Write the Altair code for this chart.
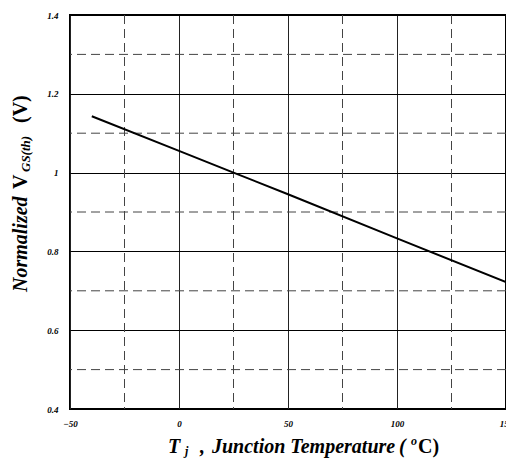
import altair as alt
import pandas as pd

# Data
temps = [-40, 0, 25, 50, 100, 150]
vgs_norm = [1.143, 1.055, 1.0, 0.945, 0.833, 0.722]

x_major = [-50, 0, 50, 100, 150]
y_major = [0.4, 0.6, 0.8, 1.0, 1.2, 1.4]
x_minor = [-25, 25, 75, 125]
y_minor = [0.5, 0.7, 0.9, 1.1, 1.3]

FONT = "Liberation Serif"

line_df = pd.DataFrame({"T": temps, "V": vgs_norm})
xminor_df = pd.DataFrame({"x": x_minor})
yminor_df = pd.DataFrame({"y": y_minor})

xscale = alt.Scale(domain=[-50, 150], nice=False, zero=False)
yscale = alt.Scale(domain=[0.4, 1.4], nice=False, zero=False)

xaxis = alt.Axis(values=x_major, grid=True, gridColor="#222", gridWidth=1, ticks=False,
                 domain=False, title=None, labelFont=FONT, labelFontWeight="bold",
                 labelFontStyle="italic", labelFontSize=9, labelColor="#000",
                 labelPadding=10, labelFlush=False, labelOverlap=False)
yaxis = alt.Axis(values=y_major, grid=True, gridColor="#000", gridWidth=1, ticks=False,
                 domain=False, title=None, labelFont=FONT, labelFontWeight="bold",
                 labelFontStyle="italic", labelFontSize=9, labelColor="#000",
                 labelPadding=12, labelFlush=False, labelOverlap=False,
                 labelExpr="datum.value == 1 ? '1' : format(datum.value, '.1f')")

line = alt.Chart(line_df).mark_line(color="#000", strokeWidth=2).encode(
    x=alt.X("T:Q", scale=xscale, axis=xaxis),
    y=alt.Y("V:Q", scale=yscale, axis=yaxis),
)

vminor = alt.Chart(xminor_df).mark_rule(color="#444", strokeWidth=1, strokeDash=[9, 5]).encode(
    x=alt.X("x:Q", scale=xscale)
)
hminor = alt.Chart(yminor_df).mark_rule(color="#444", strokeWidth=1, strokeDash=[9, 5]).encode(
    y=alt.Y("y:Q", scale=yscale)
)

def txt(text, x, y, size=20, style="italic", angle=0, align="left"):
    return alt.Chart(pd.DataFrame({"t": [text]})).mark_text(
        font=FONT, fontSize=size, fontWeight="bold", fontStyle=style, color="#000",
        align=align, baseline="alphabetic", angle=angle
    ).encode(text="t:N", x=alt.value(x), y=alt.value(y))

# x title pieces (plot coords: origin at plot top-left)
XB = 438
xt = [
    txt("T", 98, XB),
    txt("j", 115, XB + 2, size=12),
    txt(",", 130, XB),
    txt("Junction Temperature", 142, XB),
    txt("(", 329, XB),
    txt("o", 341, XB - 8, size=12),
    txt("C)", 348, XB, style="normal"),
]
# y title pieces rotated (reads bottom to top)
YB = -43
yt = [
    txt("Normalized", YB, 277, size=20, angle=270),
    txt("V", YB, 174, size=20, style="normal", angle=270),
    txt("GS(th)", YB + 3, 157, size=13, angle=270),
    txt("(V)", YB, 108, size=20, style="normal", angle=270),
]

chart = alt.layer(vminor, hminor, line, *xt, *yt).properties(
    width=436, height=394,
    autosize=alt.AutoSizeParams(type="none"),
    padding={"left": 62, "top": 7, "right": 0, "bottom": 50},
).configure_view(stroke="#000", strokeWidth=2)

chart.save("out.html", embed_options={"renderer": "svg", "actions": False})
